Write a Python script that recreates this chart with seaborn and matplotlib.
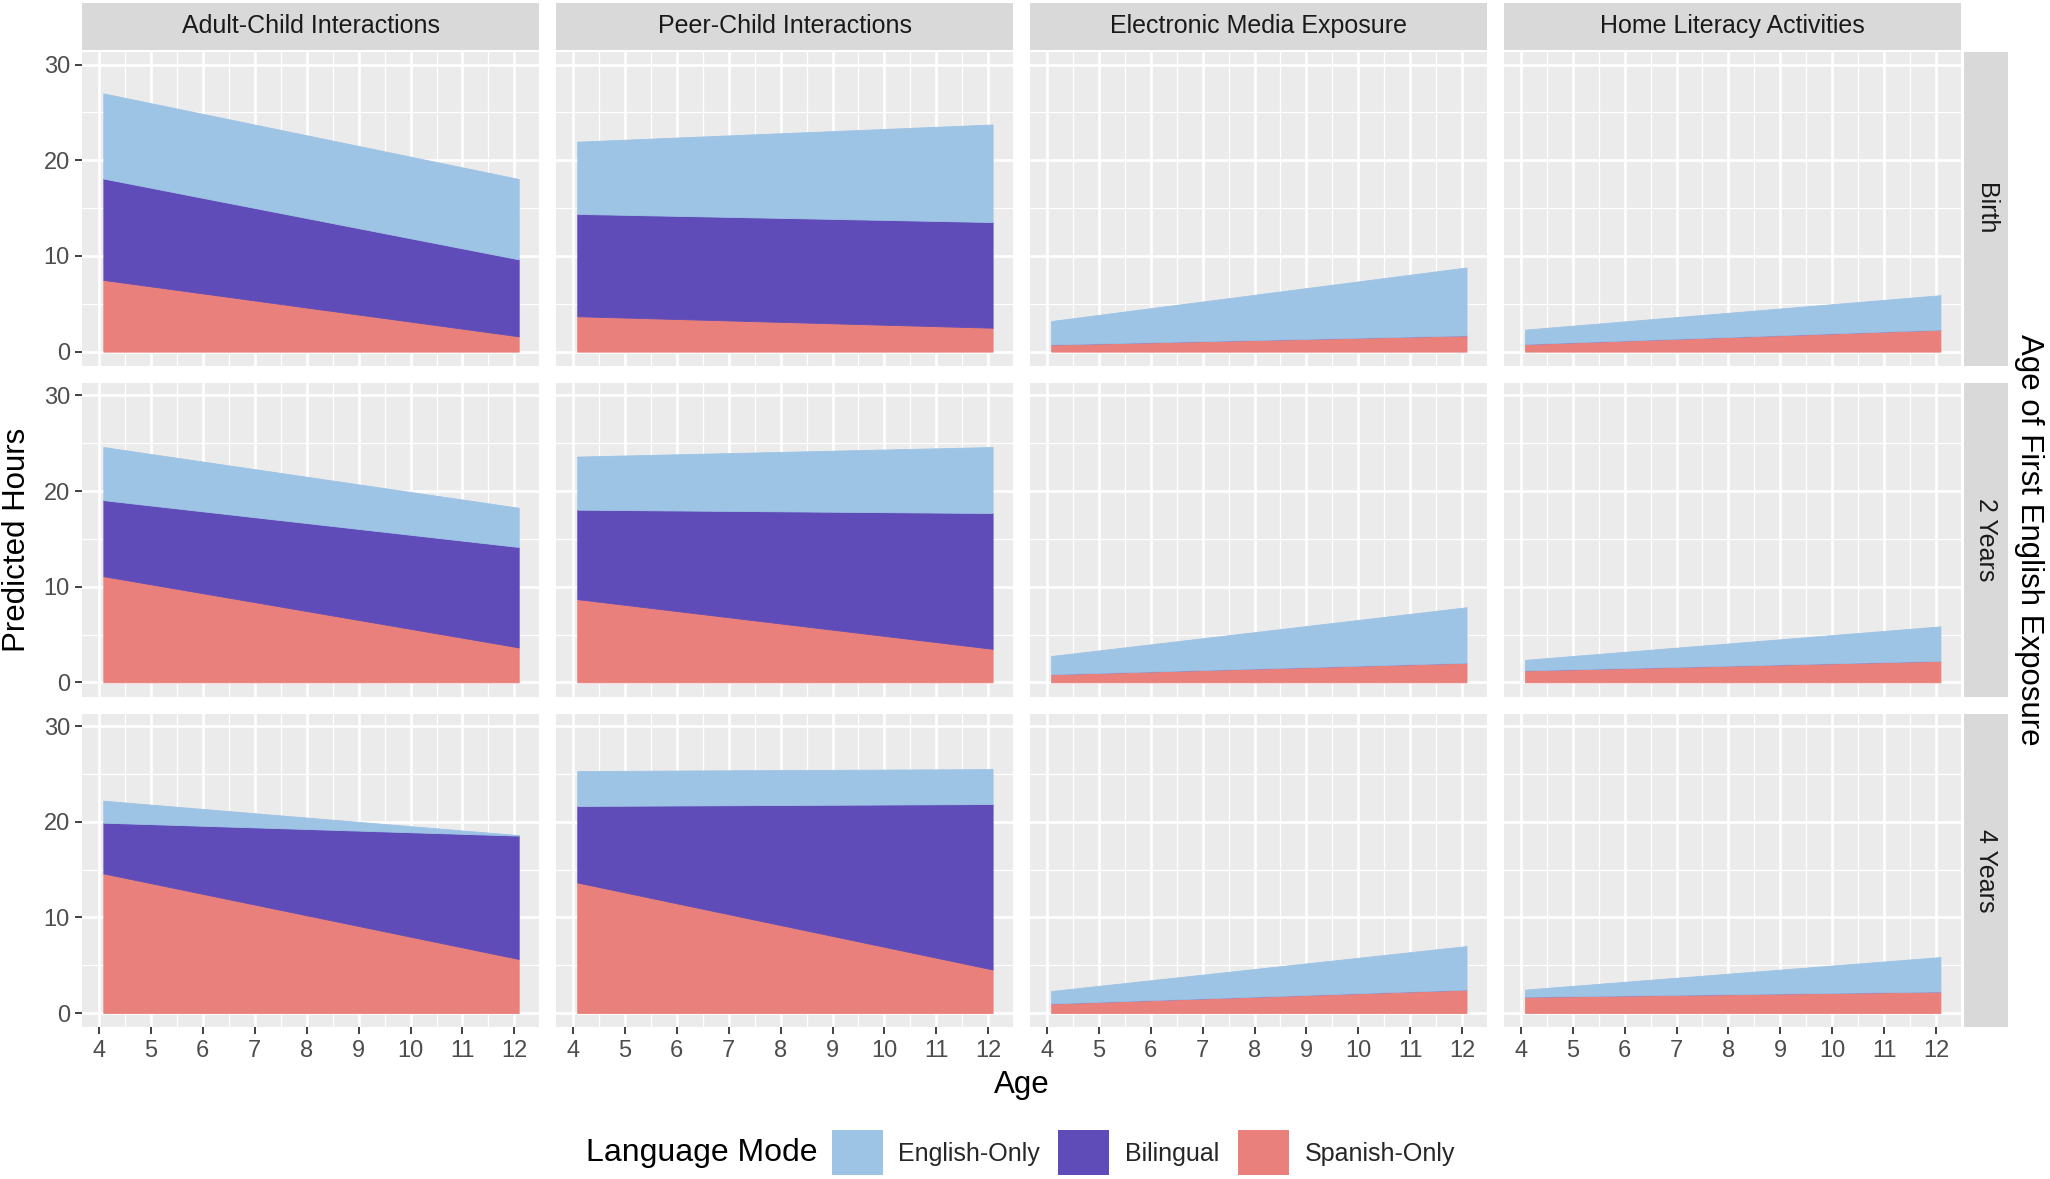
import numpy as np
import pandas as pd
import matplotlib.pyplot as plt
from matplotlib.patches import Patch
from matplotlib.ticker import MultipleLocator
import seaborn as sns

# ─── Data (predicted hours at first / last age) ───────────
CONTEXTS = ["Adult-Child Interactions", "Peer-Child Interactions",
            "Electronic Media Exposure", "Home Literacy Activities"]
EXPOSURES = ["Birth", "2 Years", "4 Years"]
MODES = ["Spanish-Only", "Bilingual", "English-Only"]      # stacked bottom -> top
LEGEND_ORDER = ["English-Only", "Bilingual", "Spanish-Only"]
AGES = [4.083, 12.083]
X_TICKS = [4, 5, 6, 7, 8, 9, 10, 11, 12]
Y_TICKS = [0, 10, 20, 30]

# one [start, end] pair per context column
SPANISH_BIRTH = [[7.5, 1.6], [3.7, 2.5], [0.75, 1.7], [0.8, 2.3]]
BILINGUAL_BIRTH = [[10.6, 8.05], [10.7, 11.05], [0.0, 0.0], [0.0, 0.0]]
ENGLISH_BIRTH = [[8.9, 8.4], [7.55, 10.2], [2.45, 7.1], [1.5, 3.6]]

SPANISH_2Y = [[11.1, 3.65], [8.7, 3.5], [0.85, 2.05], [1.25, 2.25]]
BILINGUAL_2Y = [[7.95, 10.5], [9.35, 14.2], [0.0, 0.0], [0.0, 0.0]]
ENGLISH_2Y = [[5.55, 4.1], [5.55, 6.9], [1.9, 5.8], [1.1, 3.6]]

SPANISH_4Y = [[14.6, 5.65], [13.65, 4.55], [1.0, 2.45], [1.7, 2.25]]
BILINGUAL_4Y = [[5.3, 12.9], [8.0, 17.3], [0.0, 0.0], [0.0, 0.0]]
ENGLISH_4Y = [[2.3, 0.05], [3.65, 3.65], [1.3, 4.55], [0.75, 3.6]]

PALETTE = {"English-Only": "#9DC3E5", "Bilingual": "#5F4CB8", "Spanish-Only": "#EA807B"}

# ─── Style ────────────────────────────────────────────────
PANEL_BG = "#EBEBEB"
STRIP_BG = "#D9D9D9"
TICK_COL = "#4D4D4D"
sns.set_theme(style="darkgrid", rc={
    "axes.facecolor": PANEL_BG,
    "grid.color": "white",
    "figure.facecolor": "white",
})
plt.rcParams["font.family"] = ["Liberation Sans", "DejaVu Sans"]

# ─── Long table ───────────────────────────────────────────
series = {
    "Birth": (SPANISH_BIRTH, BILINGUAL_BIRTH, ENGLISH_BIRTH),
    "2 Years": (SPANISH_2Y, BILINGUAL_2Y, ENGLISH_2Y),
    "4 Years": (SPANISH_4Y, BILINGUAL_4Y, ENGLISH_4Y),
}
rows = []
for exp in EXPOSURES:
    for mode, vals in zip(MODES, series[exp]):
        for ci, ctx in enumerate(CONTEXTS):
            for age, hrs in zip(AGES, vals[ci]):
                rows.append({"exposure": exp, "context": ctx, "mode": mode,
                             "age": age, "hours": hrs})
df = pd.DataFrame(rows)


def stacked_area(data, **kws):
    ax = plt.gca()
    wide = data.pivot(index="age", columns="mode", values="hours")[MODES]
    base = np.zeros(len(wide))
    for mode in MODES:
        top = base + wide[mode].to_numpy()
        ax.fill_between(wide.index, base, top, color=PALETTE[mode],
                        edgecolor=PALETTE[mode], linewidth=0.6, zorder=2)
        base = top


g = sns.FacetGrid(df, row="exposure", col="context",
                  row_order=EXPOSURES, col_order=CONTEXTS,
                  sharex=True, sharey=True, despine=False, height=3, aspect=1.4)
g.map_dataframe(stacked_area)
g.set_titles(template="", row_template="", col_template="")
g.set_axis_labels("", "")

fig = g.figure
fig.set_size_inches(20.5, 11.79)
fig.subplots_adjust(left=0.0402, right=0.9566, top=0.9557, bottom=0.1286,
                    wspace=0.0372, hspace=0.054)

for (ri, ci), ax in np.ndenumerate(g.axes):
    ax.set_xlim(3.68, 12.48)
    ax.set_ylim(-1.5, 31.3)
    ax.xaxis.set_major_locator(plt.FixedLocator(X_TICKS))
    ax.yaxis.set_major_locator(plt.FixedLocator(Y_TICKS))
    ax.xaxis.set_minor_locator(MultipleLocator(0.5))
    ax.yaxis.set_minor_locator(MultipleLocator(5))
    ax.grid(which="major", color="white", linewidth=1.9)
    ax.grid(which="minor", color="white", linewidth=0.9)
    ax.set_axisbelow(True)
    for sp in ax.spines.values():
        sp.set_visible(False)
    ax.tick_params(which="minor", length=0)
    ax.tick_params(which="major", length=5, width=1.3, color="#333333",
                   labelsize=17, labelcolor=TICK_COL, pad=4,
                   left=(ci == 0), bottom=(ri == 2),
                   labelleft=(ci == 0), labelbottom=(ri == 2))

# ─── Strips ───────────────────────────────────────────────
fig.canvas.draw()
for ci, ctx in enumerate(CONTEXTS):
    pos = g.axes[0, ci].get_position()
    sax = fig.add_axes([pos.x0, 0.9579, pos.width, 0.99778 - 0.9579])
    sax.set_facecolor(STRIP_BG)
    sax.set_xticks([]); sax.set_yticks([])
    sax.grid(False)
    for sp in sax.spines.values():
        sp.set_visible(False)
    sax.text(0.5, 0.5, ctx, ha="center", va="center", fontsize=18,
             color="#1A1A1A", transform=sax.transAxes)

for ri, exp in enumerate(EXPOSURES):
    pos = g.axes[ri, 3].get_position()
    sax = fig.add_axes([0.95791, pos.y0, 0.97959 - 0.95791, pos.height])
    sax.set_facecolor(STRIP_BG)
    sax.set_xticks([]); sax.set_yticks([])
    sax.grid(False)
    for sp in sax.spines.values():
        sp.set_visible(False)
    sax.text(0.5, 0.5, exp, ha="center", va="center", fontsize=18,
             rotation=-90, color="#1A1A1A", transform=sax.transAxes)

# ─── Axis titles ──────────────────────────────────────────
fig.text(0.0085, 0.542, "Predicted Hours", rotation=90, ha="center", va="center",
         fontsize=22.5, color="black")
fig.text(0.990, 0.542, "Age of First English Exposure", rotation=-90,
         ha="center", va="center", fontsize=22.5, color="black")
fig.text(0.4984, 0.0798, "Age", ha="center", va="center", fontsize=22.5, color="black")

# ─── Legend ───────────────────────────────────────────────
handles = [Patch(facecolor=PALETTE[m], edgecolor="none") for m in LEGEND_ORDER]
fig.legend(handles, LEGEND_ORDER, ncol=3, loc="center",
           bbox_to_anchor=(0.5577, 0.0222), frameon=False, fontsize=18,
           handlelength=2.04, handleheight=2.4, handletextpad=0.63,
           columnspacing=0.73)
fig.text(0.3986, 0.0222, "Language Mode", ha="right", va="center",
         fontsize=23, color="black")

fig.savefig("out.png", dpi=100)
